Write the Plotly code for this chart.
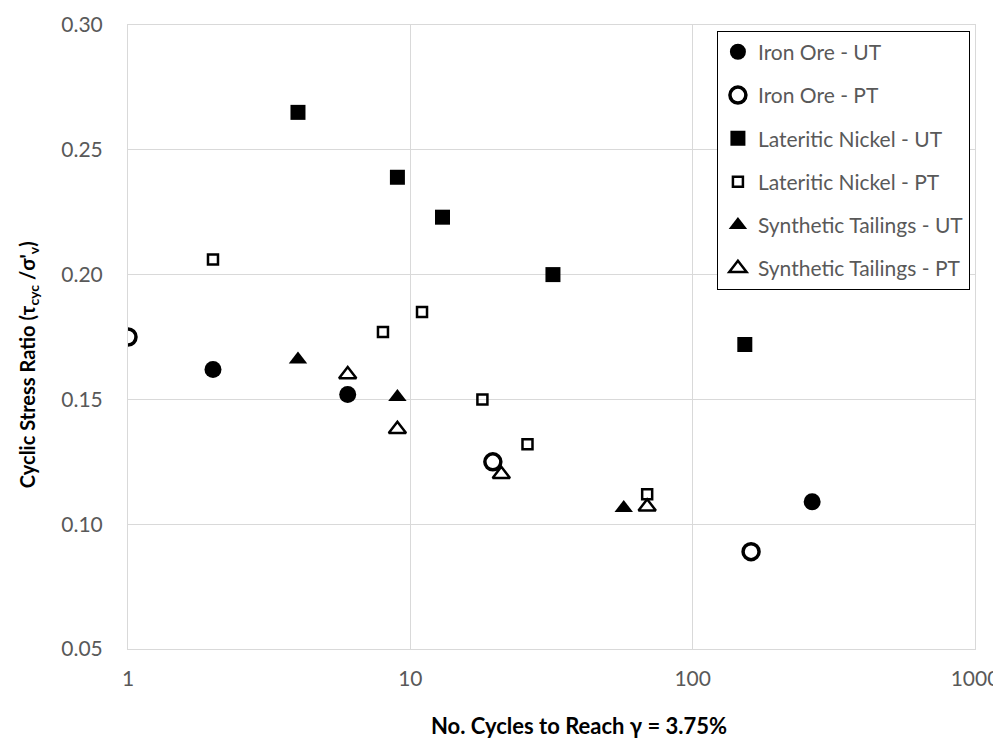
import plotly.graph_objects as go

# Data
io_ut_x = [2, 6, 265]
io_ut_y = [0.162, 0.152, 0.109]
io_pt_x = [1, 19.6, 161]
io_pt_y = [0.175, 0.125, 0.089]
ln_ut_x = [4, 9, 13, 32, 153]
ln_ut_y = [0.265, 0.239, 0.223, 0.200, 0.172]
ln_pt_x = [2, 8, 11, 18, 26, 69]
ln_pt_y = [0.206, 0.177, 0.185, 0.150, 0.132, 0.112]
st_ut_x = [4, 9, 57]
st_ut_y = [0.166, 0.151, 0.1065]
st_pt_x = [6, 9, 21, 69]
st_pt_y = [0.160, 0.138, 0.120, 0.107]

x_tickvals = [1, 10, 100, 1000]
x_ticktext = ["1", "10", "100", "1000"]

FONT = "Lato"
TICKC = "#595959"
GRID = "#d9d9d9"

series = [
    ("Iron Ore - UT", io_ut_x, io_ut_y, dict(symbol="circle", size=17, color="black", line=dict(width=0))),
    ("Iron Ore - PT", io_pt_x, io_pt_y, dict(symbol="circle-open", size=16, color="black", line=dict(width=3.5, color="black"))),
    ("Lateritic Nickel - UT", ln_ut_x, ln_ut_y, dict(symbol="square", size=15, color="black", line=dict(width=0))),
    ("Lateritic Nickel - PT", ln_pt_x, ln_pt_y, dict(symbol="square-open", size=10, color="black", line=dict(width=2.5, color="black"))),
    ("Synthetic Tailings - UT", st_ut_x, st_ut_y, dict(symbol="triangle-up", size=16, color="black", line=dict(width=0))),
    ("Synthetic Tailings - PT", st_pt_x, st_pt_y, dict(symbol="triangle-up-open", size=15, color="black", line=dict(width=2.5, color="black"))),
]

fig = go.Figure()
for i, (name, xs, ys, mk) in enumerate(series):
    fig.add_trace(go.Scatter(x=xs, y=ys, mode="markers", name=name, marker=mk,
                             legendgroup=f"g{i}"))

fig.update_layout(
    width=1001, height=738,
    paper_bgcolor="white", plot_bgcolor="white",
    margin=dict(l=120, r=34, t=17, b=97, autoexpand=False),
    font=dict(family=FONT, color=TICKC),
    showlegend=True,
    legend=dict(
        x=0.994, y=0.991, xanchor="right", yanchor="top",
        bgcolor="white", bordercolor="black", borderwidth=1,
        font=dict(family=FONT, size=21, color=TICKC),
        tracegroupgap=13, itemwidth=30,
    ),
    xaxis=dict(
        type="log", range=[0, 3], automargin=False,
        tickvals=x_tickvals, ticktext=x_ticktext,
        showgrid=True, gridcolor=GRID, gridwidth=1,
        showline=True, linecolor=GRID, mirror=True, zeroline=False,
        ticks="", ticklabelstandoff=11,
        tickfont=dict(family=FONT, size=21, color=TICKC),
    ),
    yaxis=dict(
        range=[0.05, 0.30], dtick=0.05, tick0=0.05, tickformat=".2f", automargin=False,
        showgrid=True, gridcolor=GRID, gridwidth=1,
        showline=True, linecolor=GRID, mirror=True, zeroline=False,
        ticks="", ticklabelstandoff=20,
        tickfont=dict(family=FONT, size=21, color=TICKC),
    ),
    annotations=[
        dict(text="<b>No. Cycles to Reach γ = 3.75%</b>", xref="paper", yref="paper",
             x=0.532, y=-0.122, xanchor="center", yanchor="middle", showarrow=False,
             font=dict(family=FONT, size=22, color="black")),
        dict(text="<b>Cyclic Stress Ratio (τ<sub>cyc</sub> /σ'<sub>v</sub>)</b>", xref="paper", yref="paper",
             x=-0.118, y=0.455, xanchor="center", yanchor="middle", showarrow=False,
             textangle=-90, font=dict(family=FONT, size=20, color="black")),
    ],
)

fig.write_html("out.html")
